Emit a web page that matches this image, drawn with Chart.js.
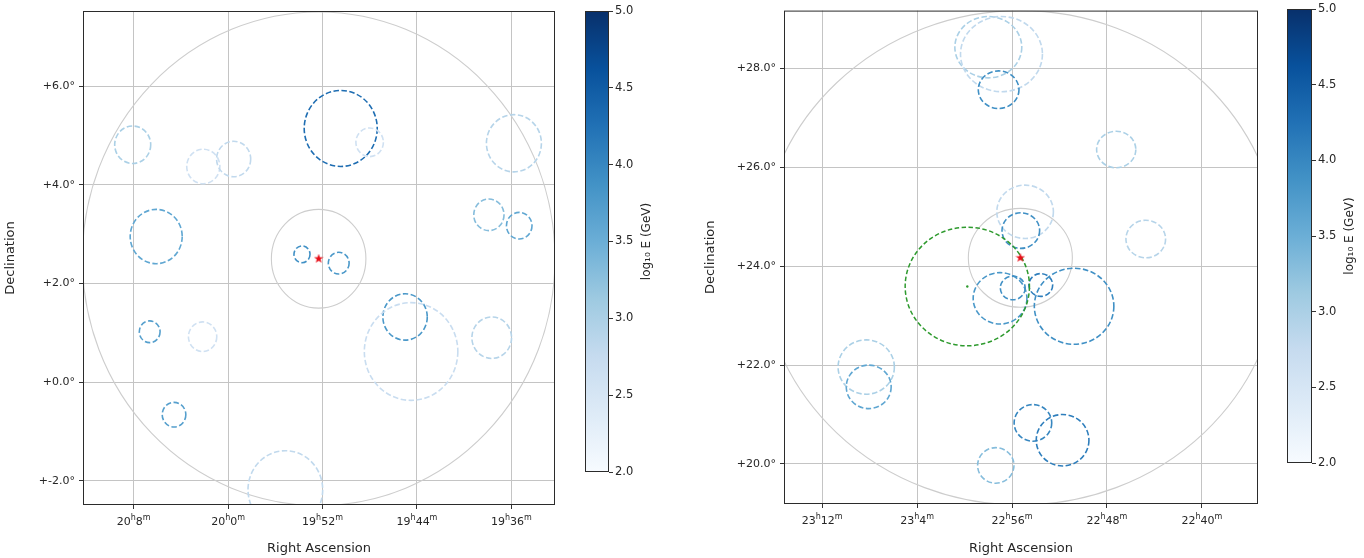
<!DOCTYPE html>
<html>
<head>
<meta charset="utf-8">
<script src="https://cdn.jsdelivr.net/npm/chart.js@4.4.1/dist/chart.umd.min.js"></script>
<style>
  html, body { margin: 0; padding: 0; background: #fff; }
  #wrap { position: relative; width: 1364px; height: 558px; overflow: hidden; }
  #wrap canvas { position: absolute; top: 0; }
</style>
</head>
<body>
<div id="wrap">
  <canvas id="leftMap" width="575" height="558" style="left:0px"></canvas>
  <canvas id="leftBar" width="110" height="558" style="left:575px"></canvas>
  <canvas id="rightMap" width="570" height="558" style="left:700px"></canvas>
  <canvas id="rightBar" width="87" height="558" style="left:1277px"></canvas>
</div>
<script>
// ---- left field (RA in minutes of time, Dec in degrees) ----
var leftSourceRa = 1192.33;
var leftSourceDec = 2.50;
var leftRa     = [1208.08, 1202.10, 1199.53, 1190.46, 1188.01, 1175.79, 1206.09, 1177.91, 1175.34, 1193.74, 1190.63, 1185.01, 1184.50, 1177.67, 1206.64, 1202.16, 1204.58, 1195.15];
var leftDec    = [4.81, 4.37, 4.52, 5.14, 4.86, 4.84, 2.95, 3.39, 3.17, 2.59, 2.41, 1.32, 0.62, 0.90, 1.02, 0.92, -0.66, -2.18];
var leftRadius = [0.38, 0.35, 0.36, 0.77, 0.29, 0.58, 0.55, 0.32, 0.27, 0.17, 0.22, 0.47, 0.99, 0.42, 0.22, 0.30, 0.25, 0.79];
var leftLogE   = [3.0, 2.6, 2.8, 4.3, 2.6, 2.9, 3.6, 3.3, 3.6, 3.9, 3.8, 3.8, 2.7, 2.9, 3.7, 2.6, 3.7, 2.8];

var leftRaTicks  = [1208, 1200, 1192, 1184, 1176];
var leftRaLabels = ['20ʰ8ᵐ', '20ʰ0ᵐ', '19ʰ52ᵐ', '19ʰ44ᵐ', '19ʰ36ᵐ'];
var leftDecTicks  = [6, 4, 2, 0, -2];
var leftDecLabels = ['+6.0°', '+4.0°', '+2.0°', '+0.0°', '+-2.0°'];

// ---- right field ----
var rightSourceRa = 1375.30;
var rightSourceDec = 24.17;
var rightRa     = [1378.00, 1376.89, 1377.13, 1367.22, 1374.90, 1375.26, 1364.73, 1377.01, 1375.94, 1373.58, 1370.77, 1388.29, 1388.08, 1374.24, 1371.74, 1377.37];
var rightDec    = [28.43, 28.29, 27.57, 26.36, 25.10, 24.72, 24.55, 23.35, 23.56, 23.62, 23.19, 21.96, 21.56, 20.83, 20.48, 19.97];
var rightRadius = [0.62, 0.76, 0.38, 0.37, 0.54, 0.36, 0.38, 0.52, 0.24, 0.23, 0.77, 0.55, 0.44, 0.37, 0.52, 0.36];
var rightLogE   = [3.0, 2.8, 3.9, 3.0, 2.8, 3.9, 2.9, 3.8, 3.9, 4.1, 3.9, 3.0, 3.6, 4.0, 4.1, 3.3];
var rightGreenRa = 1379.77;
var rightGreenDec = 23.59;
var rightGreenRadius = 1.2;

var rightRaTicks  = [1392, 1384, 1376, 1368, 1360];
var rightRaLabels = ['23ʰ12ᵐ', '23ʰ4ᵐ', '22ʰ56ᵐ', '22ʰ48ᵐ', '22ʰ40ᵐ'];
var rightDecTicks  = [28, 26, 24, 22, 20];
var rightDecLabels = ['+28.0°', '+26.0°', '+24.0°', '+22.0°', '+20.0°'];

// rings around each source (deg)
var sourceRings = [1, 5];

// colour bar
var cbarMin = 2;
var cbarMax = 5;
var cbarTicks = [2.0, 2.5, 3.0, 3.5, 4.0, 4.5, 5.0];

var bluesStops = ['#f7fbff', '#deebf7', '#c6dbef', '#9ecae1', '#6baed6', '#4292c6', '#2171b5', '#08519c', '#08306b'];

var FONT = "'DejaVu Sans', sans-serif";
Chart.defaults.font.family = FONT;
Chart.defaults.color = '#262626';

function hexRgb(h) {
    return [parseInt(h.substr(1, 2), 16), parseInt(h.substr(3, 2), 16), parseInt(h.substr(5, 2), 16)];
}

function blues(v) {
    var t = Math.min(1, Math.max(0, (v - cbarMin) / (cbarMax - cbarMin)));
    var pos = t * (bluesStops.length - 1);
    var i = Math.min(Math.floor(pos), bluesStops.length - 2);
    var f = pos - i;
    var a = hexRgb(bluesStops[i]), b = hexRgb(bluesStops[i + 1]);
    var c = a.map(function(x, k) { return Math.round(x + (b[k] - x) * f); });
    return 'rgb(' + c.join(',') + ')';
}

function starImage(color, size) {
    var c = document.createElement('canvas');
    c.width = size; c.height = size;
    var g = c.getContext('2d');
    g.fillStyle = color;
    g.beginPath();
    for (var i = 0; i < 10; i++) {
        var r = i % 2 ? size * 0.2 : size * 0.5;
        var a = -Math.PI / 2 + i * Math.PI / 5;
        g.lineTo(size / 2 + r * Math.cos(a), size / 2 + r * Math.sin(a));
    }
    g.closePath();
    g.fill();
    return c;
}

// box around the plot area
var framePlugin = {
    id: 'frame',
    afterDraw: function(chart) {
        var a = chart.chartArea, ctx = chart.ctx;
        ctx.save();
        ctx.strokeStyle = '#2b2b2b';
        ctx.lineWidth = 1;
        ctx.strokeRect(a.left + 0.5, a.top + 0.5, a.right - a.left - 1, a.bottom - a.top - 1);
        ctx.restore();
    }
};

// RA tick labels with raised h / m
function raLabelPlugin(ticks, labels) {
    return {
        id: 'raLabels',
        afterDraw: function(chart) {
            var ctx = chart.ctx, xs = chart.scales.x;
            var base = xs.top + 19.5;
            ctx.save();
            ctx.fillStyle = '#262626';
            ctx.textBaseline = 'alphabetic';
            ctx.textAlign = 'left';
            ticks.forEach(function(v, i) {
                var parts = labels[i].replace('ʰ', '|h|').replace('ᵐ', '|m').split('|');
                var sizes = [11, 8, 11, 8];
                var widths = parts.map(function(p, k) {
                    ctx.font = sizes[k] + 'px ' + FONT;
                    return ctx.measureText(p).width;
                });
                var total = widths.reduce(function(s, w) { return s + w; }, 0);
                var x = xs.getPixelForValue(v) - total / 2;
                parts.forEach(function(p, k) {
                    ctx.font = sizes[k] + 'px ' + FONT;
                    ctx.fillText(p, x, sizes[k] === 8 ? base - 4.5 : base);
                    x += widths[k];
                });
            });
            ctx.restore();
        }
    };
}

// dashed event circles, drawn through the chart scales
function skyPlugin(set) {
    return {
        id: 'sky',
        beforeDatasetsDraw: function(chart) {
            var ctx = chart.ctx, xs = chart.scales.x, ys = chart.scales.y, a = chart.chartArea;
            function ring(ra, dec, r, color, dash, width) {
                var cx = xs.getPixelForValue(ra), cy = ys.getPixelForValue(dec);
                var dRa = r / (0.25 * Math.cos(dec * Math.PI / 180));
                var rx = Math.abs(xs.getPixelForValue(ra + dRa) - cx);
                var ry = Math.abs(ys.getPixelForValue(dec + r) - cy);
                ctx.beginPath();
                ctx.setLineDash(dash);
                ctx.lineWidth = width;
                ctx.strokeStyle = color;
                ctx.ellipse(cx, cy, rx, ry, 0, 0, 2 * Math.PI);
                ctx.stroke();
            }
            ctx.save();
            ctx.beginPath();
            ctx.rect(a.left, a.top, a.right - a.left, a.bottom - a.top);
            ctx.clip();
            sourceRings.forEach(function(r) {
                ring(set.srcRa, set.srcDec, r, '#cdcdcd', [], 1.1);
            });
            set.ra.forEach(function(ra, i) {
                ring(ra, set.dec[i], set.radius[i], blues(set.logE[i]), [5.5, 2.5], 1.6);
            });
            if (set.green) {
                ring(set.green.ra, set.green.dec, set.green.r, '#2e9a2e', [4.5, 2.5], 1.5);
            }
            ctx.restore();
        }
    };
}

function makeMap(id, set, axes) {
    var datasets = [{
        data: [{x: set.srcRa, y: set.srcDec}],
        pointStyle: starImage('#e8101a', 10),
        pointRadius: 5
    }];
    if (set.green) {
        datasets.unshift({
            data: [{x: set.green.ra, y: set.green.dec}],
            pointRadius: 1.2,
            backgroundColor: '#2e9a2e',
            borderWidth: 0
        });
    }
    return new Chart(document.getElementById(id), {
        type: 'scatter',
        data: { datasets: datasets },
        options: {
            responsive: false,
            animation: false,
            events: [],
            layout: { padding: axes.padding },
            plugins: { legend: { display: false }, tooltip: { enabled: false } },
            scales: {
                x: {
                    type: 'linear',
                    reverse: true,
                    min: axes.xMin,
                    max: axes.xMax,
                    afterFit: function(s) { s.height = axes.xHeight; },
                    afterBuildTicks: function(s) { s.ticks = axes.xTicks.map(function(v) { return {value: v}; }); },
                    ticks: {
                        font: { size: 11 },
                        padding: 4,
                        maxRotation: 0,
                        autoSkip: false,
                        callback: function() { return ''; }
                    },
                    grid: { color: '#c4c4c4', lineWidth: 1, tickLength: 4, tickColor: '#333' },
                    border: { display: false },
                    title: { display: true, text: 'Right Ascension', font: { size: 13 }, padding: { top: 0, bottom: 2 } }
                },
                y: {
                    type: 'linear',
                    min: axes.yMin,
                    max: axes.yMax,
                    afterFit: function(s) { s.width = axes.yWidth; },
                    afterBuildTicks: function(s) { s.ticks = axes.yTicks.map(function(v) { return {value: v}; }); },
                    ticks: {
                        font: { size: 11 },
                        padding: 4,
                        autoSkip: false,
                        callback: function(v) { return axes.yLabels[axes.yTicks.indexOf(v)]; }
                    },
                    grid: { color: '#c4c4c4', lineWidth: 1, tickLength: 4, tickColor: '#333' },
                    border: { display: false },
                    title: { display: true, text: 'Declination', font: { size: 13 }, padding: { top: 3, bottom: 0 } }
                }
            }
        },
        plugins: [skyPlugin(set), framePlugin, raLabelPlugin(axes.xTicks, axes.xLabels)]
    });
}

function makeColorbar(id, padding, axisWidth) {
    var labelPlugin = {
        id: 'cbarLabel',
        afterDraw: function(chart) {
            var a = chart.chartArea, ctx = chart.ctx;
            ctx.save();
            ctx.translate(a.right + 38, (a.top + a.bottom) / 2);
            ctx.rotate(-Math.PI / 2);
            ctx.fillStyle = '#262626';
            ctx.font = '12px ' + FONT;
            ctx.textAlign = 'center';
            ctx.textBaseline = 'middle';
            ctx.fillText('log₁₀ E (GeV)', 0, 0);
            ctx.restore();
        }
    };
    return new Chart(document.getElementById(id), {
        type: 'bar',
        data: {
            labels: [''],
            datasets: [{
                data: [[cbarMin, cbarMax]],
                barPercentage: 1,
                categoryPercentage: 1,
                borderWidth: 0,
                backgroundColor: function(c) {
                    var a = c.chart.chartArea;
                    if (!a) return bluesStops[4];
                    var g = c.chart.ctx.createLinearGradient(0, a.bottom, 0, a.top);
                    bluesStops.forEach(function(col, i) { g.addColorStop(i / (bluesStops.length - 1), col); });
                    return g;
                }
            }]
        },
        options: {
            responsive: false,
            animation: false,
            events: [],
            layout: { padding: padding },
            plugins: { legend: { display: false }, tooltip: { enabled: false } },
            scales: {
                x: { display: false },
                y: {
                    position: 'right',
                    min: cbarMin,
                    max: cbarMax,
                    afterFit: function(s) { s.width = axisWidth; },
                    afterBuildTicks: function(s) { s.ticks = cbarTicks.map(function(v) { return {value: v}; }); },
                    ticks: {
                        font: { size: 11.5 },
                        padding: 2,
                        callback: function(v) { return v.toFixed(1); }
                    },
                    grid: { display: true, drawOnChartArea: false, tickLength: 4, tickColor: '#333' },
                    border: { display: false }
                }
            }
        },
        plugins: [framePlugin, labelPlugin]
    });
}

makeMap('leftMap', {
    srcRa: leftSourceRa, srcDec: leftSourceDec,
    ra: leftRa, dec: leftDec, radius: leftRadius, logE: leftLogE
}, {
    xMin: 1172.31, xMax: 1212.29, yMin: -2.49, yMax: 7.52,
    xTicks: leftRaTicks, xLabels: leftRaLabels, yTicks: leftDecTicks, yLabels: leftDecLabels,
    padding: { left: 0, top: 11, right: 20, bottom: 0 }, yWidth: 83, xHeight: 53
});

makeMap('rightMap', {
    srcRa: rightSourceRa, srcDec: rightSourceDec,
    ra: rightRa, dec: rightDec, radius: rightRadius, logE: rightLogE,
    green: { ra: rightGreenRa, dec: rightGreenDec, r: rightGreenRadius }
}, {
    xMin: 1355.27, xMax: 1395.22, yMin: 19.19, yMax: 29.17,
    xTicks: rightRaTicks, xLabels: rightRaLabels, yTicks: rightDecTicks, yLabels: rightDecLabels,
    padding: { left: 0, top: 9, right: 12, bottom: 0 }, yWidth: 84, xHeight: 54
});

makeColorbar('leftBar', { left: 10, top: 11, right: 0, bottom: 86 }, 76);
makeColorbar('rightBar', { left: 10, top: 9, right: 0, bottom: 95 }, 52);
</script>
</body>
</html>
